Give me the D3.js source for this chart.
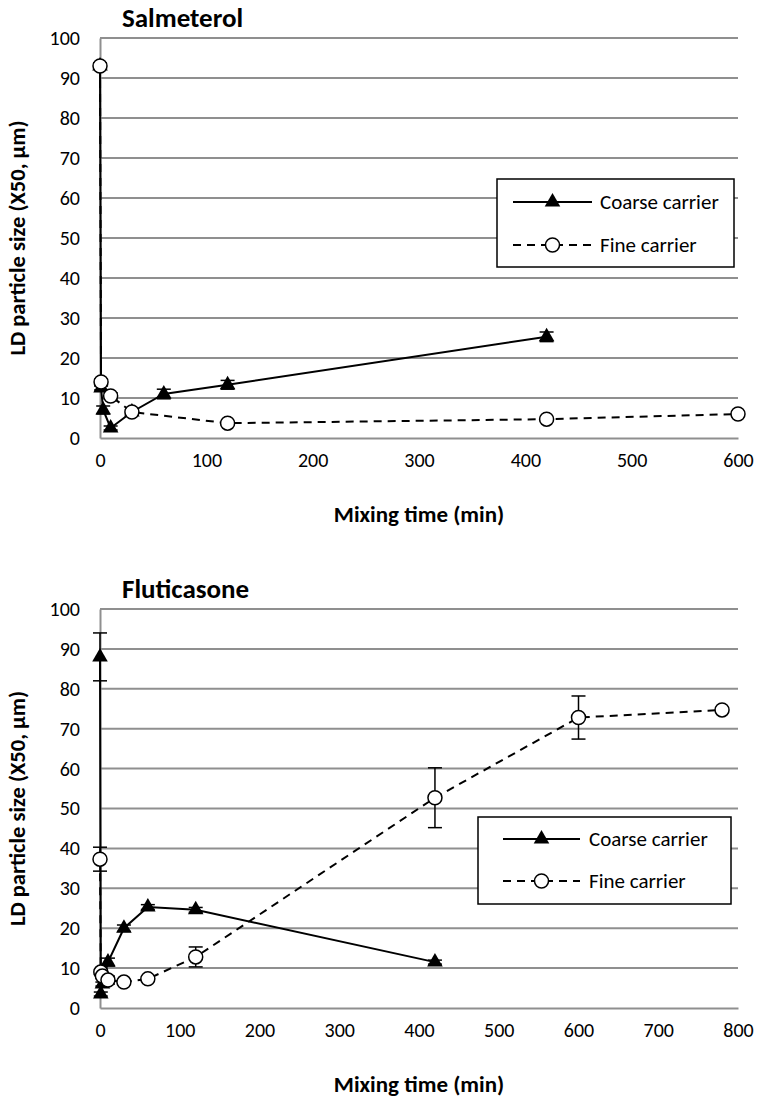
<!DOCTYPE html>
<html>
<head>
<meta charset="utf-8">
<script src="https://cdn.jsdelivr.net/npm/d3@7"></script>
<style>
  body { margin: 0; background: #fff; }
  text { font-family: Carlito, Lato, "Open Sans", sans-serif; fill: #000; }
</style>
</head>
<body>
<div id="chart"></div>
<script>
// Salmeterol data
const salCoarseTime = [0, 1, 3, 10, 30, 60, 120, 420];
const salCoarseX50 = [93, 12.5, 7, 2.5, 6.5, 11, 13.3, 25.3];
const salCoarseErr = [0, 0.5, 1, 0.5, 0.5, 1.2, 1.1, 1.2];
const salFineTime = [0, 1, 10, 30, 120, 420, 600];
const salFineX50 = [93, 14, 10.5, 6.5, 3.7, 4.7, 6];
const salFineErr = [0.8, 0.7, 0.8, 0.5, 0.4, 0.4, 0.5];

// Fluticasone data
const fluCoarseTime = [0, 1, 3, 10, 30, 60, 120, 420];
const fluCoarseX50 = [88, 3.5, 6, 11.5, 20, 25.3, 24.6, 11.5];
const fluCoarseErr = [6, 0.5, 0.5, 1, 0.8, 0.6, 0.6, 0.5];
const fluFineTime = [0, 1, 3, 10, 30, 60, 120, 420, 600, 780];
const fluFineX50 = [37.3, 9, 8, 7, 6.5, 7.3, 12.8, 52.7, 72.8, 74.7];
const fluFineErr = [3, 0.5, 0.5, 1, 0.3, 0.5, 2.5, 7.5, 5.4, 0.5];

const yTicks = [0, 10, 20, 30, 40, 50, 60, 70, 80, 90, 100];
const salXTicks = [0, 100, 200, 300, 400, 500, 600];
const fluXTicks = [0, 100, 200, 300, 400, 500, 600, 700, 800];
const seriesNames = ["Coarse carrier", "Fine carrier"];

const svg = d3.select("#chart").append("svg")
  .attr("width", 762)
  .attr("height", 1102);

function zip(t, v, e) {
  return t.map((d, i) => ({ t: d, v: v[i], e: e[i] }));
}

function drawPanel(p) {
  const x = d3.scaleLinear().domain([0, p.xMax]).range([p.left, p.right]);
  const y = d3.scaleLinear().domain([0, 100]).range([p.bottom, p.top]);
  const g = svg.append("g");

  // gridlines
  g.selectAll(null)
    .data(yTicks.filter(d => d > 0))
    .enter().append("line")
    .attr("x1", p.left).attr("x2", p.right)
    .attr("y1", d => y(d)).attr("y2", d => y(d))
    .attr("stroke", "#8f8f8f").attr("stroke-width", 2);

  // axes (no tick marks, gray domain)
  const xAxis = d3.axisBottom(x).tickValues(p.xTicks).tickSize(0).tickPadding(15);
  const yAxis = d3.axisLeft(y).tickValues(yTicks).tickSize(0).tickPadding(20);

  const gx = g.append("g")
    .attr("transform", `translate(0, ${p.bottom})`)
    .call(xAxis);
  const gy = g.append("g")
    .attr("transform", `translate(${p.left}, 0)`)
    .call(yAxis);
  [gx, gy].forEach(a => {
    a.select(".domain").attr("stroke", "#8f8f8f").attr("stroke-width", 2);
    a.selectAll("text").style("font-size", "20px").style("font-family", "Carlito, Lato, sans-serif");
  });

  // titles
  g.append("text")
    .attr("x", p.left + 22).attr("y", p.top - 11)
    .style("font-size", "27px").style("font-weight", "bold")
    .text(p.title);

  g.append("text")
    .attr("transform", `translate(25, ${(p.top + p.bottom) / 2}) rotate(-90)`)
    .attr("text-anchor", "middle")
    .style("font-size", "22.5px").style("font-weight", "bold")
    .text("LD particle size (X50, µm)");

  g.append("text")
    .attr("x", 419).attr("y", p.bottom + 84)
    .attr("text-anchor", "middle")
    .style("font-size", "23px").style("font-weight", "bold")
    .text("Mixing time (min)");

  const line = d3.line().x(d => x(d.t)).y(d => y(d.v));
  const tri = d3.symbol(d3.symbolTriangle, 105);

  const coarse = zip(p.coarse[0], p.coarse[1], p.coarse[2]);
  const fine = zip(p.fine[0], p.fine[1], p.fine[2]);

  function errBars(data) {
    const withErr = data.filter(d => d.e > 0);
    const eb = g.append("g").attr("stroke", "#000").attr("stroke-width", 1.5);
    eb.selectAll(null).data(withErr).enter().append("line")
      .attr("x1", d => x(d.t)).attr("x2", d => x(d.t))
      .attr("y1", d => y(d.v - d.e)).attr("y2", d => y(d.v + d.e));
    [-1, 1].forEach(s => {
      eb.selectAll(null).data(withErr).enter().append("line")
        .attr("x1", d => x(d.t) - 7).attr("x2", d => x(d.t) + 7)
        .attr("y1", d => y(d.v + s * d.e))
        .attr("y2", d => y(d.v + s * d.e));
    });
  }

  // coarse series
  g.append("path").datum(coarse)
    .attr("d", line).attr("fill", "none")
    .attr("stroke", "#000").attr("stroke-width", 2);
  errBars(coarse);
  g.selectAll(null).data(coarse).enter().append("path")
    .attr("d", tri)
    .attr("transform", d => `translate(${x(d.t)}, ${y(d.v)})`)
    .attr("fill", "#000");

  // fine series
  g.append("path").datum(fine)
    .attr("d", line).attr("fill", "none")
    .attr("stroke", "#000").attr("stroke-width", 2)
    .attr("stroke-dasharray", "8,6");
  errBars(fine);
  g.selectAll(null).data(fine).enter().append("circle")
    .attr("cx", d => x(d.t)).attr("cy", d => y(d.v))
    .attr("r", 7)
    .attr("fill", "#fff").attr("stroke", "#000").attr("stroke-width", 1.5);

  // legend
  const L = p.legend;
  const lg = g.append("g");
  lg.append("rect")
    .attr("x", L.x).attr("y", L.y).attr("width", L.w).attr("height", L.h)
    .attr("fill", "#fff").attr("stroke", "#000").attr("stroke-width", 1.5);
  seriesNames.forEach((name, i) => {
    const ly = L.rows[i];
    lg.append("line")
      .attr("x1", L.lx1).attr("x2", L.lx2).attr("y1", ly).attr("y2", ly)
      .attr("stroke", "#000").attr("stroke-width", 2)
      .attr("stroke-dasharray", i === 1 ? "8,6" : null);
    const mx = (L.lx1 + L.lx2) / 2;
    if (i === 0) {
      lg.append("path").attr("d", tri)
        .attr("transform", `translate(${mx}, ${ly})`).attr("fill", "#000");
    } else {
      lg.append("circle").attr("cx", mx).attr("cy", ly).attr("r", 7)
        .attr("fill", "#fff").attr("stroke", "#000").attr("stroke-width", 1.5);
    }
    lg.append("text")
      .attr("x", L.tx).attr("y", ly + 7)
      .style("font-size", "21px")
      .text(name);
  });
}

drawPanel({
  title: "Salmeterol",
  left: 100, right: 738, top: 38, bottom: 438,
  xMax: 600, xTicks: salXTicks,
  coarse: [salCoarseTime, salCoarseX50, salCoarseErr],
  fine: [salFineTime, salFineX50, salFineErr],
  legend: { x: 497, y: 179, w: 237, h: 88, rows: [202, 245], lx1: 513, lx2: 592, tx: 600 }
});

drawPanel({
  title: "Fluticasone",
  left: 100, right: 738, top: 609, bottom: 1008,
  xMax: 800, xTicks: fluXTicks,
  coarse: [fluCoarseTime, fluCoarseX50, fluCoarseErr],
  fine: [fluFineTime, fluFineX50, fluFineErr],
  legend: { x: 478, y: 817, w: 253, h: 87, rows: [839, 881], lx1: 503, lx2: 580, tx: 589 }
});
</script>
</body>
</html>
